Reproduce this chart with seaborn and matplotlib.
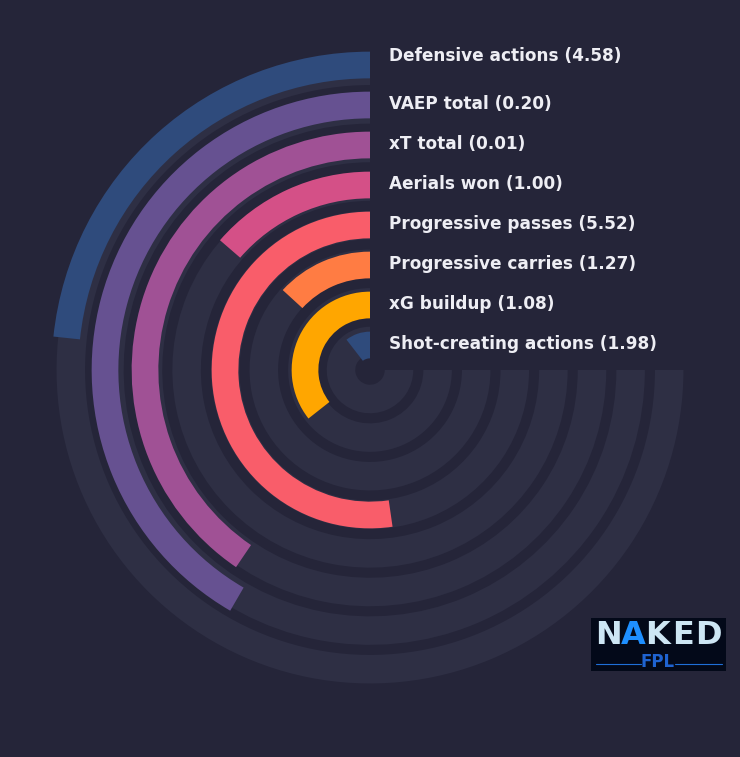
import numpy as np
import matplotlib
matplotlib.use("Agg")
import matplotlib.pyplot as plt
import seaborn as sns

# ----------------------------
# Data (innermost ring first)
# ----------------------------
metrics = [
    "Shot-creating actions",
    "xG buildup",
    "Progressive carries",
    "Progressive passes",
    "Aerials won",
    "xT total",
    "VAEP total",
    "Defensive actions",
]
per90 = [1.98, 1.08, 1.27, 5.52, 1.00, 0.01, 0.20, 4.58]
percentiles = [14, 47.5, 17.6, 69.7, 18.2, 54, 55.5, 31.1]

bar_colors = ["#2f4b7c", "#ffa600", "#ff7c43", "#f95d6a",
              "#d45087", "#a05195", "#665191", "#2f4b7c"]

BG = "#252539"
TRACK = "#2e2f44"

sns.set_theme(style="white", rc={"axes.facecolor": BG, "figure.facecolor": BG})
plt.rcParams["font.family"] = ["DejaVu Sans"]

# ----------------------------
# Figure / polar axes (units in pixels)
# ----------------------------
W, H = 740, 757
R = 340
cx, cy = 370, 370
fig = plt.figure(figsize=(W / 100, H / 100), dpi=100)
fig.patch.set_facecolor(BG)
ax = fig.add_axes([(cx - R) / W, (H - cy - R) / H, 2 * R / W, 2 * R / H],
                  projection="polar")
ax.set_facecolor(BG)
ax.set_theta_zero_location("N")
ax.set_theta_direction(1)
ax.set_ylim(0, R)

full = 1.5 * np.pi
idx = np.arange(len(metrics))
bar_r = 25 + 40 * idx
track_r = 29 + 38.6 * idx

# background tracks
ax.barh(track_r, [full] * len(metrics), left=0, height=28.5,
        color=TRACK, edgecolor="none", zorder=1)

# value bars
theta = np.array(percentiles) / 100 * full
ax.barh(bar_r, theta, left=0, height=26.7, color=bar_colors,
        edgecolor="none", zorder=2)

# labels
for i, (m, v) in enumerate(zip(metrics, per90)):
    dy = -1 if i < len(metrics) - 1 else -9
    ax.annotate(f"{m} ({v:.2f})", xy=(0, bar_r[i]), xytext=(13.7, -dy * 0.72),
                textcoords="offset points", ha="left", va="center",
                color="#eeeef4", fontsize=12.15, fontweight="bold", zorder=3,
                annotation_clip=False)

ax.grid(False)
ax.set_xticks([])
ax.set_yticks([])
ax.spines["polar"].set_visible(False)

# ----------------------------
# Logo
# ----------------------------
lx0, ly0, lx1, ly1 = 591, 618, 726, 671
lax = fig.add_axes([lx0 / W, (H - ly1) / H, (lx1 - lx0) / W, (ly1 - ly0) / H])
lax.set_facecolor("#030919")
lax.set_xlim(0, lx1 - lx0)
lax.set_ylim(ly1 - ly0, 0)
lax.set_xticks([])
lax.set_yticks([])
for s in lax.spines.values():
    s.set_visible(False)
letters = ["N", "A", "K", "E", "D"]
lcols = ["#cde6f4", "#1e8fff", "#cde6f4", "#cde6f4", "#cde6f4"]
for k, (ch, c) in enumerate(zip(letters, lcols)):
    lax.text(17 + k * 25, 18, ch, color=c, fontsize=23, fontweight="bold",
             ha="center", va="center")
lax.text(67, 44, "FPL", color="#1f63d0", fontsize=12, fontweight="bold",
         ha="center", va="center")
lax.plot([5, 50], [46, 46], color="#1f6fd8", lw=0.8)
lax.plot([84, 131], [46, 46], color="#1f6fd8", lw=0.8)

fig.savefig("out.png", dpi=100, facecolor=BG)
